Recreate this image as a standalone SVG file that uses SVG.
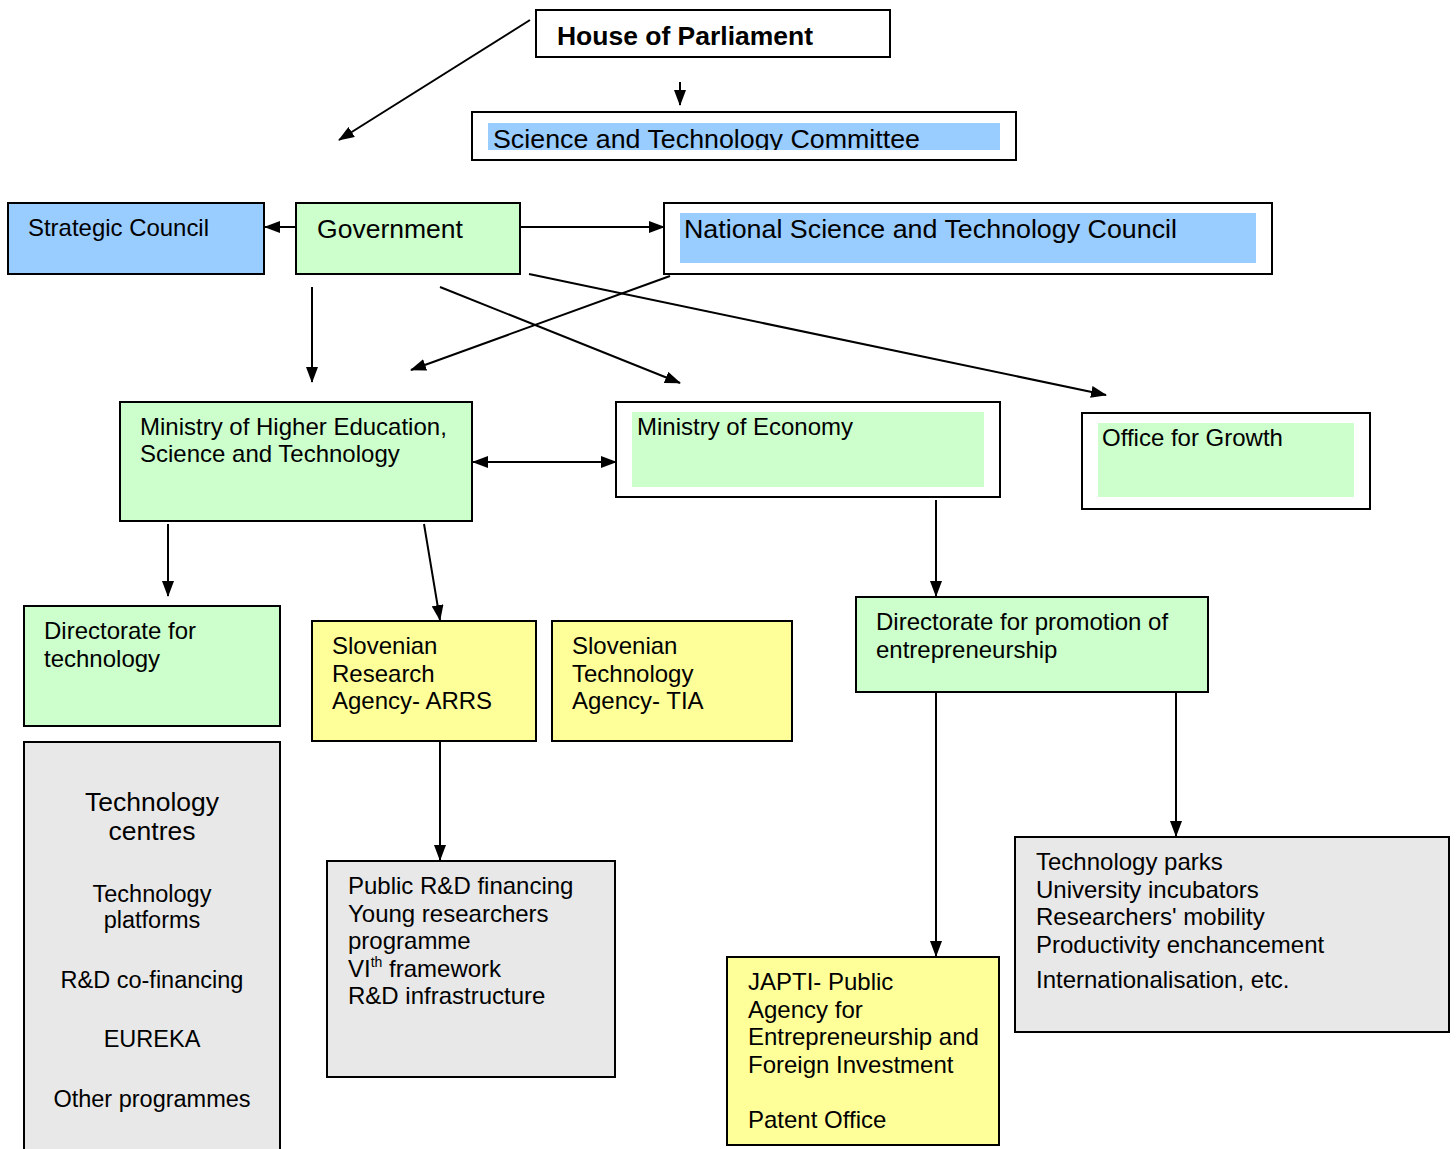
<svg xmlns="http://www.w3.org/2000/svg" width="1456" height="1149" viewBox="0 0 1456 1149">
<style>
text{font-family:"Liberation Sans",Arial,sans-serif;fill:#000;}
.t{font-size:24px;}
.big{font-size:26.5px;}
.box{stroke:#000;stroke-width:2;}
.w{fill:#fff;}
.b{fill:#99CCFF;}
.g{fill:#CCFFCC;}
.y{fill:#FFFF99;}
.gr{fill:#E8E8E8;}
.c line{stroke:#000;stroke-width:2;marker-end:url(#ah);}
</style>
<defs>
<marker id="ah" markerUnits="userSpaceOnUse" markerWidth="16" markerHeight="12" refX="15" refY="6" orient="auto">
<path d="M0,0 L16,6 L0,12 z" fill="#000"/>
</marker>
<marker id="ahs" markerUnits="userSpaceOnUse" markerWidth="16" markerHeight="12" refX="15" refY="6" orient="auto-start-reverse">
<path d="M0,0 L16,6 L0,12 z" fill="#000"/>
</marker>
<clipPath id="cp1"><rect x="488" y="123" width="512" height="27"/></clipPath>
</defs>

<g id="house">
<rect class="box w" x="536" y="10" width="354" height="47"/>
<text x="557" y="45" style="font-size:26.5px;font-weight:bold" textLength="256" lengthAdjust="spacingAndGlyphs">House of Parliament</text>
</g>

<g id="committee">
<rect class="box w" x="472" y="112" width="544" height="48"/>
<rect class="b" x="488" y="123" width="512" height="27"/>
<text class="big" x="493" y="148" clip-path="url(#cp1)" textLength="427" lengthAdjust="spacingAndGlyphs">Science and Technology Committee</text>
</g>

<g id="strategic">
<rect class="box b" x="8" y="203" width="256" height="71"/>
<text class="t" x="28" y="236" textLength="181" lengthAdjust="spacingAndGlyphs">Strategic Council</text>
</g>

<g id="government">
<rect class="box g" x="296" y="203" width="224" height="71"/>
<text class="big" x="317" y="238" textLength="146" lengthAdjust="spacingAndGlyphs">Government</text>
</g>

<g id="nstc">
<rect class="box w" x="664" y="203" width="608" height="71"/>
<rect class="b" x="680" y="213" width="576" height="50"/>
<text class="big" x="684" y="238" textLength="493" lengthAdjust="spacingAndGlyphs">National Science and Technology Council</text>
</g>

<g id="mhest">
<rect class="box g" x="120" y="402" width="352" height="119"/>
<text class="t" x="140" y="435">Ministry of Higher Education,</text>
<text class="t" x="140" y="462">Science and Technology</text>
</g>

<g id="economy">
<rect class="box w" x="616" y="402" width="384" height="95"/>
<rect class="g" x="632" y="412" width="352" height="75"/>
<text class="t" x="637" y="435">Ministry of Economy</text>
</g>

<g id="growth">
<rect class="box w" x="1082" y="413" width="288" height="96"/>
<rect class="g" x="1098" y="423" width="256" height="74"/>
<text class="t" x="1102" y="446">Office for Growth</text>
</g>

<g id="dirtech">
<rect class="box g" x="24" y="606" width="256" height="120"/>
<text class="t" x="44" y="639">Directorate for</text>
<text class="t" x="44" y="667">technology</text>
</g>

<g id="arrs">
<rect class="box y" x="312" y="621" width="224" height="120"/>
<text class="t" x="332" y="654">Slovenian</text>
<text class="t" x="332" y="682">Research</text>
<text class="t" x="332" y="709">Agency- ARRS</text>
</g>

<g id="tia">
<rect class="box y" x="552" y="621" width="240" height="120"/>
<text class="t" x="572" y="654">Slovenian</text>
<text class="t" x="572" y="682">Technology</text>
<text class="t" x="572" y="709">Agency- TIA</text>
</g>

<g id="direntre">
<rect class="box g" x="856" y="597" width="352" height="95"/>
<text class="t" x="876" y="630">Directorate for promotion of</text>
<text class="t" x="876" y="658">entrepreneurship</text>
</g>

<g id="techcentres">
<rect class="box gr" x="24" y="742" width="256" height="420"/>
<g text-anchor="middle">
<text x="152" y="811" style="font-size:26.5px">Technology</text>
<text x="152" y="840" style="font-size:26.5px">centres</text>
<text x="152" y="902" style="font-size:23.5px">Technology</text>
<text x="152" y="928" style="font-size:23.5px">platforms</text>
<text x="152" y="988" style="font-size:23.5px">R&amp;D co-financing</text>
<text x="152" y="1047" style="font-size:23.5px">EUREKA</text>
<text x="152" y="1107" style="font-size:23.5px">Other programmes</text>
</g>
</g>

<g id="publicrd">
<rect class="box gr" x="327" y="861" width="288" height="216"/>
<text class="t" x="348" y="894">Public R&amp;D financing</text>
<text class="t" x="348" y="922">Young researchers</text>
<text class="t" x="348" y="949">programme</text>
<text class="t" x="348" y="977">VI<tspan style="font-size:14px" dy="-10">th</tspan><tspan dy="10"> framework</tspan></text>
<text class="t" x="348" y="1004">R&amp;D infrastructure</text>
</g>

<g id="japti">
<rect class="box y" x="727" y="957" width="272" height="188"/>
<text class="t" x="748" y="990">JAPTI- Public</text>
<text class="t" x="748" y="1018">Agency for</text>
<text class="t" x="748" y="1045">Entrepreneurship and</text>
<text class="t" x="748" y="1073">Foreign Investment</text>
<text class="t" x="748" y="1128">Patent Office</text>
</g>

<g id="techparks">
<rect class="box gr" x="1015" y="837" width="434" height="195"/>
<text class="t" x="1036" y="870">Technology parks</text>
<text class="t" x="1036" y="898">University incubators</text>
<text class="t" x="1036" y="925">Researchers' mobility</text>
<text class="t" x="1036" y="953">Productivity enchancement</text>
<text class="t" x="1036" y="988">Internationalisation, etc.</text>
</g>

<g id="connectors" class="c">
<line x1="530" y1="20" x2="339" y2="140"/>
<line x1="680" y1="82" x2="680" y2="105"/>
<line x1="296" y1="227" x2="265" y2="227"/>
<line x1="520" y1="227" x2="664" y2="227"/>
<line x1="312" y1="287" x2="312" y2="382"/>
<line x1="440" y1="287" x2="680" y2="383"/>
<line x1="529" y1="274" x2="1106" y2="395"/>
<line x1="670" y1="276" x2="411" y2="370"/>
<line x1="473" y1="462" x2="616" y2="462" style="marker-start:url(#ahs)"/>
<line x1="168" y1="524" x2="168" y2="596"/>
<line x1="424" y1="524" x2="440" y2="620"/>
<line x1="936" y1="500" x2="936" y2="596"/>
<line x1="440" y1="741" x2="440" y2="860"/>
<line x1="936" y1="692" x2="936" y2="956"/>
<line x1="1176" y1="692" x2="1176" y2="836"/>
</g>
</svg>
